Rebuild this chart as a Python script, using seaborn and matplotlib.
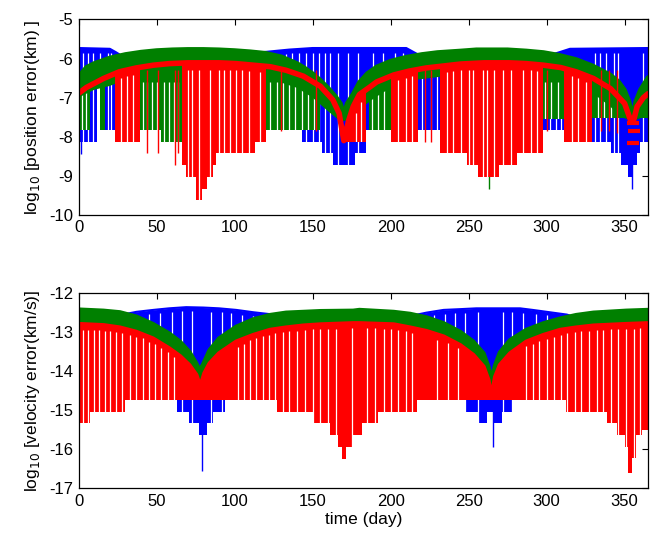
# Orbit determination error plot: log10 position / velocity error over one year
import numpy as np
import matplotlib
matplotlib.use("Agg")
import matplotlib.pyplot as plt
import seaborn as sns

BLUE = "#0000ff"
GREEN = "#008000"
RED = "#ff0000"

# ---------------- top panel: position error ----------------
pos_blue_days = [0, 20, 24, 30, 105, 110, 117, 135, 150, 210, 215, 222, 290, 300, 308, 315, 365]
pos_blue_top = [-5.74, -5.76, -5.85, -6.0, -6.0, -5.9, -5.85, -5.78, -5.74, -5.74, -5.85,
                -6.0, -6.0, -5.95, -5.85, -5.76, -5.74]
pos_blue_floor_days = [0, 11.5, 17, 120, 143, 156, 163, 177, 184, 300, 311, 341, 348, 352, 355,
                       358, 360, 365]
pos_blue_floor = [-8.13, -6.3, -7.82, -7.82, -8.13, -8.42, -8.72, -8.42, -7.82, -7.82, -8.13,
                  -8.42, -8.72, -9.03, -8.72, -8.42, -8.13, -8.13]
pos_blue_spike_days = [1.5, 354.5]
pos_blue_spike_vals = [-8.45, -9.33]
pos_blue_gap_days = [3, 6, 9, 14, 19, 21, 124, 128, 133, 137, 141, 146, 150, 154, 158, 161, 166,
                     173, 179, 189, 195, 203, 208, 214, 220, 226, 230, 302, 306, 309, 331, 334,
                     338, 343, 346, 362]
pos_blue_gap_tops = [-5.85, -5.85, -5.85, -5.85, -5.87, -5.87, -5.9, -5.9, -5.88, -5.86, -5.85,
                     -5.85, -5.85, -5.85, -5.85, -5.85, -5.85, -5.85, -5.85, -5.85, -5.85,
                     -5.85, -5.85, -5.95, -6.1, -6.1, -6.1, -6.05, -6.0, -5.95, -5.85, -5.85,
                     -5.85, -5.85, -5.85, -5.85]

pos_green_days = [0, 5, 10, 15, 20, 30, 40, 50, 60, 70, 80, 90, 100, 110, 120, 130, 140, 145,
                  150, 155, 160, 165, 168, 170, 172, 176, 180, 185, 191, 200, 210, 220, 230,
                  245, 255, 275, 287, 298, 308, 319, 330, 341, 346, 350, 353, 355, 357, 360, 365]
pos_green_top = [-6.45, -6.22, -6.12, -6.05, -5.98, -5.89, -5.83, -5.79, -5.77, -5.76, -5.76,
                 -5.77, -5.79, -5.82, -5.86, -5.95, -6.12, -6.24, -6.38, -6.55, -6.75, -6.98,
                 -7.15, -7.42, -7.15, -6.9, -6.6, -6.38, -6.21, -6.06, -5.96, -5.89, -5.84,
                 -5.8, -5.77, -5.77, -5.8, -5.84, -5.91, -6.02, -6.19, -6.42, -6.58, -6.8,
                 -7.1, -7.49, -7.1, -6.8, -6.48]
pos_green_lo_days = [0, 10, 20, 30, 45, 60, 90, 110, 125, 140, 150, 160, 166, 170, 174, 180,
                     190, 200, 215, 235, 260, 285, 300, 315, 330, 340, 348, 355, 362, 365]
pos_green_lo = [-7.0, -6.8, -6.7, -6.55, -6.45, -6.4, -6.4, -6.45, -6.55, -6.75, -7.0, -7.35,
                -7.55, -7.6, -7.55, -7.3, -7.0, -6.75, -6.55, -6.45, -6.4, -6.42, -6.5, -6.65,
                -6.9, -7.2, -7.5, -7.6, -7.5, -7.4]
pos_green_floor_days = [0, 7.5, 14, 17, 39, 53, 66, 86, 113, 155, 186, 200, 217, 232, 270, 281,
                        298, 311, 329, 365]
pos_green_floor = [-7.82, -5, -7.82, -5, -7.82, -8.13, -8.42, -8.13, -7.82, -5, -7.82, -8.13,
                   -5, -8.42, -8.72, -8.42, -7.55, -8.13, -7.53, -7.53]
pos_green_spike_days = [263]
pos_green_spike_vals = [-9.33]
pos_green_gap_days = [2, 5, 41, 44, 47, 50, 55, 58, 61, 64, 116, 119, 123, 127, 131, 135, 139,
                      143, 147, 151, 188, 192, 196, 299, 303, 307, 333, 337, 341]
pos_green_gap_tops = [-6.6] * len(pos_green_gap_days)

pos_red_days = [0, 5, 16, 26, 37, 48, 58, 70, 90, 101, 112, 123, 133, 144, 155, 163, 167, 170,
                173, 176, 180, 187, 191, 202, 212, 223, 234, 245, 260, 276, 287, 298, 309, 319,
                330, 341, 350, 354, 356, 358, 362, 365]
pos_red_top = [-6.89, -6.74, -6.51, -6.34, -6.24, -6.17, -6.13, -6.11, -6.11, -6.13, -6.17,
               -6.21, -6.3, -6.45, -6.71, -7.06, -7.4, -8.1, -7.6, -7.23, -6.92, -6.72, -6.6,
               -6.42, -6.32, -6.24, -6.19, -6.14, -6.11, -6.11, -6.13, -6.17, -6.23, -6.34,
               -6.51, -6.77, -7.15, -7.6, -7.55, -7.23, -7.0, -6.9]
pos_red_floor_days = [0, 23.3, 39.5, 66, 69, 75, 79, 82, 86, 88, 113, 120, 169, 184.5, 200,
                      217.5, 231.7, 248.8, 256.3, 269.7, 281, 297.6, 311, 329, 365]
pos_red_floor = [-5, -8.13, -5, -8.72, -9.03, -9.62, -9.33, -9.03, -8.72, -8.42, -8.13, -5,
                 -8.13, -5, -8.13, -5, -8.42, -8.72, -9.03, -8.72, -8.42, -5, -8.13, -5, -5]
pos_red_spike_days = [43.6, 51, 62, 64, 130, 152, 222, 226, 300, 335, 340, 345]
pos_red_spike_vals = [-8.42, -8.42, -8.72, -8.42, -7.85, -7.85, -8.13, -8.13, -7.85, -7.85,
                      -7.85, -7.9]
pos_red_gap_days = [27, 31, 35, 70, 73, 77, 84, 90, 93, 97, 101, 105, 109, 116, 178, 181, 205,
                    210, 214, 236, 240, 245, 250, 253, 259, 262, 266, 272, 277, 285, 290, 294,
                    316, 320, 325]
pos_red_gap_tops = [-6.5, -6.45, -6.42, -6.3, -6.3, -6.3, -6.3, -6.3, -6.3, -6.3, -6.3, -6.3,
                    -6.32, -6.35, -7.4, -7.1, -6.55, -6.5, -6.45, -6.35, -6.33, -6.3, -6.3,
                    -6.3, -6.3, -6.3, -6.3, -6.3, -6.3, -6.3, -6.3, -6.32, -6.45, -6.5, -6.6]
pos_red_dash_days = [355.5, 356.0, 355.5]
pos_red_dash_vals = [-7.65, -7.85, -8.15]

# ---------------- bottom panel: velocity error ----------------
vel_blue_days = [0, 25, 32, 37, 48, 58, 69, 80, 90, 101, 112, 123, 130, 140, 210, 217, 223,
                 234, 245, 255, 283, 291, 302, 313, 320, 365]
vel_blue_top = [-12.6, -12.6, -12.53, -12.49, -12.44, -12.4, -12.37, -12.38, -12.4, -12.44,
                -12.5, -12.55, -12.62, -12.7, -12.7, -12.56, -12.51, -12.44, -12.42, -12.4,
                -12.4, -12.44, -12.5, -12.56, -12.65, -12.65]
vel_blue_floor_days = [0, 62.8, 71, 77, 82, 86, 94, 248, 256.4, 262, 266, 271.5, 278.5, 365]
vel_blue_floor = [-14.75, -15.04, -15.32, -15.64, -15.32, -15.04, -14.75, -15.04, -15.32,
                  -15.04, -15.32, -15.04, -14.75, -14.75]
vel_blue_spike_days = [79, 265.5]
vel_blue_spike_vals = [-16.55, -15.95]
vel_blue_gap_days = [45, 52, 60, 66, 73, 85, 92, 98, 105, 112, 228, 235, 241, 248, 256, 272,
                     278, 285, 293, 300]
vel_blue_gap_tops = [-12.55, -12.52, -12.5, -12.48, -12.48, -12.5, -12.5, -12.53, -12.56, -12.6,
                     -12.58, -12.55, -12.52, -12.51, -12.5, -12.5, -12.5, -12.52, -12.55, -12.58]

vel_green_days = [0, 16, 26.5, 37, 47.7, 58, 65, 71, 75.5, 77.5, 79.6, 83.9, 90, 101, 112,
                  122.7, 133, 144, 155, 176, 180, 202, 212.5, 223, 234, 244.6, 253, 259.6,
                  262.7, 264.5, 267, 270, 276.6, 287, 298, 308.7, 319, 330, 351, 365]
vel_green_top = [-12.43, -12.46, -12.5, -12.61, -12.8, -13.04, -13.25, -13.51, -13.81, -13.98,
                 -13.85, -13.47, -13.17, -12.87, -12.68, -12.57, -12.51, -12.49, -12.47,
                 -12.46, -12.44, -12.49, -12.54, -12.63, -12.78, -13.0, -13.25, -13.55, -13.89,
                 -14.23, -13.85, -13.53, -13.21, -12.95, -12.78, -12.66, -12.57, -12.51,
                 -12.46, -12.44]
vel_green_floor_days = [0, 365]
vel_green_floor = [-14.75, -14.75]

vel_red_days = [0, 16, 26.5, 37, 47.7, 58, 65, 71, 75.5, 78, 80.6, 83.9, 90, 101, 112, 122.7,
                133, 144, 155, 176, 180, 202, 212.5, 223, 234, 244.6, 253, 259.6, 262.7, 264.5,
                267, 270, 276.6, 287, 298, 308.7, 319, 330, 351, 365]
vel_red_top = [-12.8, -12.83, -12.89, -13.0, -13.17, -13.42, -13.62, -13.85, -14.1, -14.4,
               -14.06, -13.81, -13.55, -13.25, -13.08, -12.95, -12.89, -12.84, -12.81, -12.78,
               -12.78, -12.81, -12.89, -12.98, -13.12, -13.34, -13.59, -13.89, -14.23, -14.67,
               -14.15, -13.85, -13.55, -13.25, -13.08, -12.95, -12.89, -12.84, -12.8, -12.78]
vel_red_floor_days = [0, 7.5, 30, 127, 150, 161, 166, 168.6, 171.7, 176, 181.5, 192, 217,
                      312.5, 339, 345, 350, 352, 354.5, 357, 361, 365]
vel_red_floor = [-15.32, -15.04, -14.75, -15.04, -15.32, -15.64, -15.94, -16.24, -15.94,
                 -15.64, -15.34, -15.06, -14.75, -15.04, -15.32, -15.64, -15.94, -16.6,
                 -16.23, -15.64, -15.5, -15.5]
vel_red_gap_days = [3, 6, 10, 13, 17, 20, 24, 28, 33, 37, 41, 45, 49, 53, 57, 61, 102, 106, 110,
                    114, 118, 122, 126, 131, 135, 140, 145, 150, 155, 160, 165, 175, 185, 190,
                    196, 200, 205, 210, 214, 230, 237, 243, 287, 291, 295, 300, 305, 309, 313,
                    318, 322, 327, 332, 336, 341, 346, 351, 356, 360]
vel_red_gap_tops = [-12.95, -12.95, -12.95, -12.95, -12.97, -12.98, -13.0, -13.02, -13.08,
                    -13.12, -13.17, -13.25, -13.32, -13.42, -13.52, -13.65, -13.38, -13.3,
                    -13.22, -13.16, -13.1, -13.07, -13.04, -13.01, -12.99, -12.97, -12.95,
                    -12.94, -12.93, -12.92, -12.92, -12.9, -12.9, -12.91, -12.92, -12.93,
                    -12.96, -12.99, -13.03, -13.2, -13.28, -13.42, -13.37, -13.3, -13.24,
                    -13.18, -13.12, -13.07, -13.04, -13.01, -12.99, -12.97, -12.96, -12.95,
                    -12.93, -12.93, -12.92, -12.92, -12.91]


def draw_series(ax, z, color, days, top, floor_days, floor_vals, ylim, lw,
                lo_days=None, lo_vals=None, spike_days=None, spike_vals=None, spike_top=None,
                gap_days=None, gap_tops=None):
    ymin, ymax = ylim
    # dense spikes reaching down to the (stepped) floor
    body = ax.fill_between(days, top, ymin, color=color, lw=0, zorder=z)
    clip = ax.fill_between(floor_days, floor_vals, ymax, step="post", alpha=0)
    floor_path = clip.get_paths()[0]
    body.set_clip_path(floor_path, ax.transData)
    clip.remove()
    # white gaps between the spikes
    if gap_days is not None:
        g = ax.vlines(gap_days, ymin, gap_tops, color="white", lw=0.9, zorder=z + 0.1)
        g.set_clip_path(floor_path, ax.transData)
    # solid band just under the envelope
    if lo_days is not None:
        band = ax.fill_between(days, top, ymin, color=color, lw=0, zorder=z + 0.2)
        clip2 = ax.fill_between(lo_days, lo_vals, ymax, alpha=0)
        band.set_clip_path(clip2.get_paths()[0], ax.transData)
        clip2.remove()
    if spike_days is not None:
        ax.vlines(spike_days, spike_vals, spike_top, color=color, lw=1, zorder=z + 0.3)
    sns.lineplot(x=days, y=top, color=color, lw=lw, ax=ax, sort=False, estimator=None,
                 zorder=z + 0.4)


sns.set_style("white")
plt.rcParams["font.family"] = ["Liberation Sans", "DejaVu Sans"]
plt.rcParams["axes.unicode_minus"] = False
for key in ["text.color", "axes.labelcolor", "xtick.color", "ytick.color"]:
    plt.rcParams[key] = "black"

fig = plt.figure(figsize=(6.66, 5.4), dpi=100)
ax1 = fig.add_axes([0.118, 0.602, 0.855, 0.362])
ax2 = fig.add_axes([0.118, 0.0957, 0.855, 0.3623])

# top panel
ylim1 = (-10, -5)
draw_series(ax1, 1, BLUE, pos_blue_days, pos_blue_top, pos_blue_floor_days, pos_blue_floor,
            ylim1, 2, spike_days=pos_blue_spike_days, spike_vals=pos_blue_spike_vals,
            spike_top=-6.5, gap_days=pos_blue_gap_days, gap_tops=pos_blue_gap_tops)
draw_series(ax1, 2, GREEN, pos_green_days, pos_green_top, pos_green_floor_days,
            pos_green_floor, ylim1, 3, lo_days=pos_green_lo_days, lo_vals=pos_green_lo,
            spike_days=pos_green_spike_days, spike_vals=pos_green_spike_vals, spike_top=-7.0,
            gap_days=pos_green_gap_days, gap_tops=pos_green_gap_tops)
draw_series(ax1, 3, RED, pos_red_days, pos_red_top, pos_red_floor_days, pos_red_floor,
            ylim1, 4, spike_days=pos_red_spike_days, spike_vals=pos_red_spike_vals,
            spike_top=-6.3, gap_days=pos_red_gap_days, gap_tops=pos_red_gap_tops)
ax1.plot(pos_red_dash_days, pos_red_dash_vals, ls="none", marker="_", ms=8, mew=3, color=RED,
         zorder=4)

# bottom panel
ylim2 = (-17, -12)
draw_series(ax2, 1, BLUE, vel_blue_days, vel_blue_top, vel_blue_floor_days, vel_blue_floor,
            ylim2, 1.5, spike_days=vel_blue_spike_days, spike_vals=vel_blue_spike_vals,
            spike_top=-14.5, gap_days=vel_blue_gap_days, gap_tops=vel_blue_gap_tops)
draw_series(ax2, 2, GREEN, vel_green_days, vel_green_top, vel_green_floor_days,
            vel_green_floor, ylim2, 3)
draw_series(ax2, 3, RED, vel_red_days, vel_red_top, vel_red_floor_days, vel_red_floor,
            ylim2, 3, gap_days=vel_red_gap_days, gap_tops=vel_red_gap_tops)

for ax, ylim, lab in [(ax1, ylim1, r"log$_{10}$ [position error(km) ]"),
                      (ax2, ylim2, r"log$_{10}$ [velocity error(km/s)]")]:
    ax.set_xlim(0, 365)
    ax.set_ylim(*ylim)
    ax.set_xticks(range(0, 351, 50))
    ax.set_yticks(range(ylim[0], ylim[1] + 1))
    ax.tick_params(direction="in", top=True, right=True, length=4, width=0.8,
                   labelsize=12, pad=4, colors="black")
    ax.set_ylabel(lab, fontsize=12.5, labelpad=5)
    for s in ax.spines.values():
        s.set_linewidth(0.9)
        s.set_color("black")
        s.set_zorder(10)

ax2.set_xlabel("time (day)", fontsize=12.5, labelpad=2)

fig.savefig("out.png", dpi=100)
